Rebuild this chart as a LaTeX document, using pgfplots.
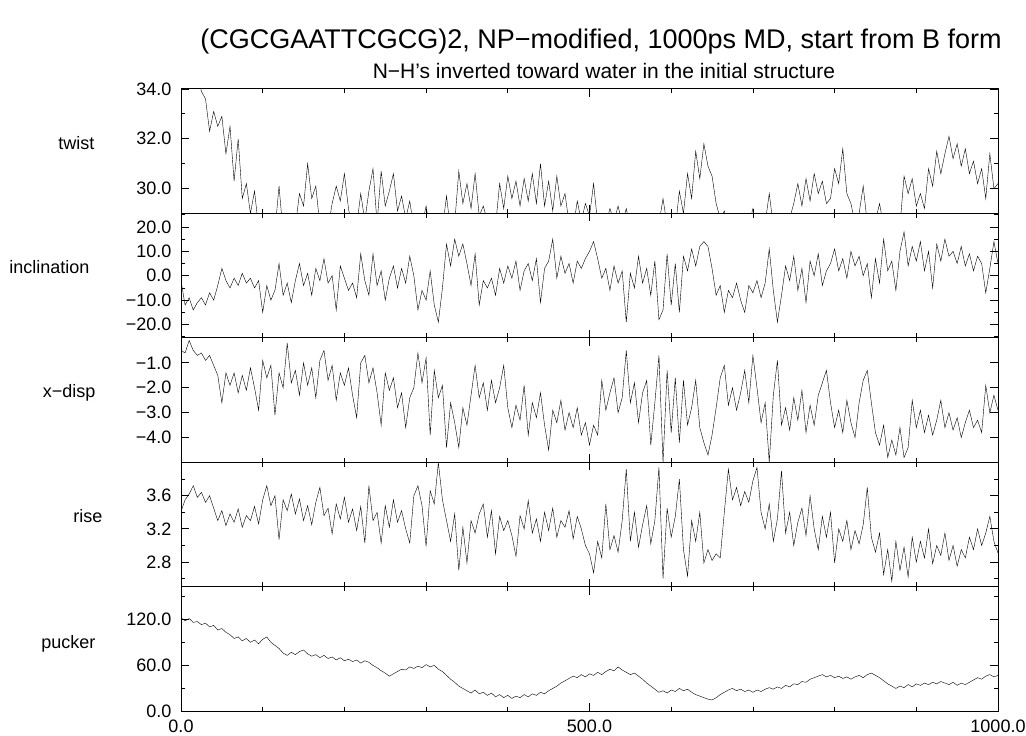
\documentclass[border=0pt]{standalone}
\usepackage{pgfplots}
\pgfplotsset{compat=1.18}
\usepackage{fontspec}
\setmainfont{Liberation Sans}
\pgfplotsset{
 panel/.style={
  at={(181pt,#1)}, anchor=north west,
  width=817pt, height=124.5pt, scale only axis,
  xmin=0, xmax=1000,
  xtick={0,500,1000}, minor xtick={100,200,300,400,600,700,800,900},
  xticklabels={},
  tick align=inside,
  major tick length=8pt, minor tick length=4.5pt,
  yticklabel pos=left,
  every tick/.style={black, line width=0.8pt},
  axis line style={black, line width=1pt},
  ticklabel style={font=\fontsize{18}{21}\selectfont},
  yticklabel style={xshift=-6pt},
  cycle list={{black, line width=1.1pt, line join=round, mark=none}},
 },
}
\begin{document}
\begin{tikzpicture}
\useasboundingbox (0pt,0pt) rectangle (1026pt,736pt);
\node[anchor=base, font=\fontsize{27}{31}\selectfont] at (601pt,687pt) {(CGCGAATTCGCG)2, NP−modified, 1000ps MD, start from B form};
\node[anchor=base, font=\fontsize{21}{24}\selectfont] at (604pt,657pt) {N−H's inverted toward water in the initial structure};
\begin{scope}[every node/.style={font=\fontsize{18}{21}\selectfont, anchor=base east}]
\node at (98pt,586pt) {twist};
\node at (93pt,462pt) {inclination};
\node at (99pt,338pt) {x−disp};
\node at (106pt,213pt) {rise};
\node at (99pt,87pt) {pucker};
\end{scope}

% twist
\begin{axis}[panel=647pt, ymin=29, ymax=34, ytick={30,32,34}, yticklabels={30.0,32.0,34.0}, minor ytick={29,31,33}]
\addplot coordinates {
(0,35.5)(5,35.0)(10,34.9)(15,34.5)(20,34.6)(25,33.9)(30,33.6)(35,32.3)(40,33.1)(45,32.5)(50,32.9)(55,31.4)(60,32.5)(65,30.3)(70,32.0)(75,29.6)(80,30.2)(85,29.0)(90,29.9)(95,28.4)
(100,28.8)(105,28.2)(110,28.0)(115,28.3)(120,30.1)(125,28.2)(130,28.0)(135,28.3)(140,28.5)(145,29.8)(150,29.3)(155,31.0)(160,29.6)(165,30.1)(170,28.5)(175,28.2)(180,28.4)(185,29.4)(190,30.1)(195,29.5)
(200,30.6)(205,29.2)(210,28.3)(215,28.5)(220,29.8)(225,28.7)(230,29.9)(235,30.8)(240,28.6)(245,30.7)(250,29.3)(255,29.9)(260,30.6)(265,29.1)(270,29.7)(275,28.8)(280,29.5)(285,28.4)(290,28.2)(295,28.5)
(300,29.3)(305,28.3)(310,28.0)(315,28.2)(320,28.4)(325,29.7)(330,28.3)(335,28.6)(340,30.7)(345,29.4)(350,30.2)(355,29.2)(360,30.6)(365,28.9)(370,29.3)(375,28.7)(380,28.3)(385,28.5)(390,30.2)(395,29.2)
(400,30.5)(405,29.6)(410,30.3)(415,29.3)(420,30.4)(425,29.5)(430,30.6)(435,29.4)(440,31.0)(445,29.3)(450,30.3)(455,29.1)(460,30.5)(465,29.3)(470,29.8)(475,28.6)(480,28.4)(485,29.5)(490,28.7)(495,29.4)
(500,28.9)(505,30.2)(510,28.6)(515,28.3)(520,28.5)(525,29.2)(530,28.7)(535,29.3)(540,28.6)(545,29.2)(550,28.4)(555,28.2)(560,28.0)(565,28.2)(570,28.1)(575,28.3)(580,28.4)(585,28.6)(590,29.6)(595,28.5)
(600,28.2)(605,28.4)(610,29.9)(615,29.0)(620,30.6)(625,29.6)(630,31.5)(635,30.4)(640,31.8)(645,30.9)(650,30.5)(655,29.4)(660,28.8)(665,29.1)(670,28.4)(675,28.2)(680,28.0)(685,28.2)(690,28.3)(695,28.5)
(700,29.2)(705,28.4)(710,28.2)(715,28.6)(720,29.8)(725,28.5)(730,28.3)(735,28.2)(740,28.5)(745,28.8)(750,29.4)(755,30.2)(760,29.3)(765,30.4)(770,29.5)(775,30.6)(780,29.8)(785,30.3)(790,29.4)(795,29.6)
(800,30.8)(805,30.2)(810,31.6)(815,29.8)(820,29.4)(825,28.6)(830,29.0)(835,30.1)(840,28.6)(845,28.4)(850,28.7)(855,29.4)(860,28.5)(865,28.2)(870,28.4)(875,28.3)(880,28.5)(885,30.5)(890,29.8)(895,30.4)
(900,29.3)(905,29.8)(910,29.2)(915,30.8)(920,30.1)(925,31.5)(930,30.6)(935,31.4)(940,32.1)(945,31.2)(950,31.8)(955,30.9)(960,31.6)(965,30.6)(970,31.1)(975,30.2)(980,30.8)(985,29.6)(990,31.4)(995,30.0)
(1000,30.2)
};
\end{axis}

% inclination
\begin{axis}[panel=522.5pt, ymin=-25.5, ymax=25.5, ytick={-20,-10,0,10,20}, yticklabels={−20.0,−10.0,0.0,10.0,20.0}, minor ytick={-25,-15,-5,5,15,25}]
\addplot coordinates {
(0,-2)(5,-12)(10,-9)(15,-14)(20,-11)(25,-9)(30,-12)(35,-7)(40,-10)(45,-4)(50,3)(55,-2)(60,-5)(65,-1)(70,-4)(75,1)(80,-3)(85,-1)(90,-5)(95,-2)
(100,-15)(105,-4)(110,-10)(115,-6)(120,5)(125,-8)(130,-3)(135,-11)(140,-2)(145,5)(150,-4)(155,1)(160,-8)(165,3)(170,-2)(175,7)(180,-3)(185,0)(190,-14)(195,4)
(200,-1)(205,-6)(210,-3)(215,-9)(220,9)(225,-2)(230,-8)(235,9)(240,-4)(245,2)(250,-10)(255,-1)(260,4)(265,-5)(270,3)(275,-3)(280,8)(285,0)(290,-14)(295,-6)
(300,-10)(305,2)(310,-12)(315,-19)(320,-5)(325,13)(330,4)(335,15)(340,8)(345,13)(350,5)(355,-4)(360,9)(365,-12)(370,-2)(375,-5)(380,-1)(385,-8)(390,3)(395,-3)
(400,4)(405,-1)(410,6)(415,-6)(420,2)(425,5)(430,-2)(435,7)(440,-11)(445,3)(450,6)(455,15)(460,-1)(465,8)(470,1)(475,5)(480,-3)(485,6)(490,3)(495,7)
(500,10)(505,14)(510,7)(515,-1)(520,3)(525,-6)(530,4)(535,-3)(540,2)(545,-19)(550,1)(555,-5)(560,8)(565,-3)(570,3)(575,-8)(580,6)(585,-18)(590,-14)(595,9)
(600,-12)(605,5)(610,-15)(615,8)(620,2)(625,11)(630,4)(635,12)(640,14)(645,12)(650,3)(655,-8)(660,-4)(665,-15)(670,-6)(675,-9)(680,-3)(685,-10)(690,-15)(695,-4)
(700,-7)(705,-2)(710,-9)(715,-3)(720,11)(725,-6)(730,-19)(735,-8)(740,4)(745,-2)(750,8)(755,-6)(760,3)(765,-11)(770,6)(775,0)(780,9)(785,-4)(790,2)(795,5)
(800,11)(805,2)(810,7)(815,-1)(820,10)(825,4)(830,8)(835,0)(840,5)(845,-9)(850,7)(855,-3)(860,15)(865,2)(870,6)(875,-6)(880,10)(885,18)(890,4)(895,12)
(900,6)(905,14)(910,2)(915,10)(920,-5)(925,13)(930,6)(935,15)(940,8)(945,10)(950,5)(955,12)(960,4)(965,9)(970,2)(975,8)(980,5)(985,-7)(990,3)(995,14)
(1000,5)
};
\end{axis}

% x-disp
\begin{axis}[panel=398pt, ymin=-5, ymax=0, ytick={-4,-3,-2,-1}, yticklabels={−4.0,−3.0,−2.0,−1.0}]
\addplot coordinates {
(0,-0.5)(5,-0.6)(10,-0.1)(15,-0.5)(20,-0.7)(25,-0.6)(30,-0.9)(35,-0.7)(40,-1.1)(45,-1.5)(50,-2.6)(55,-1.4)(60,-1.9)(65,-1.4)(70,-2.2)(75,-1.5)(80,-2.1)(85,-1.2)(90,-2.0)(95,-2.9)
(100,-0.9)(105,-1.6)(110,-1.1)(115,-3.1)(120,-1.4)(125,-2.0)(130,-0.2)(135,-1.8)(140,-1.3)(145,-2.3)(150,-1.0)(155,-1.9)(160,-1.2)(165,-2.4)(170,-0.9)(175,-0.5)(180,-1.7)(185,-1.1)(190,-2.5)(195,-1.4)
(200,-1.9)(205,-1.2)(210,-2.3)(215,-3.2)(220,-1.0)(225,-0.7)(230,-1.8)(235,-1.2)(240,-2.2)(245,-3.5)(250,-1.4)(255,-2.1)(260,-1.6)(265,-2.8)(270,-2.2)(275,-3.6)(280,-2.4)(285,-2.0)(290,-0.6)(295,-1.8)
(300,-0.8)(305,-3.9)(310,-1.3)(315,-2.4)(320,-1.9)(325,-4.4)(330,-2.6)(335,-3.4)(340,-4.4)(345,-2.8)(350,-3.5)(355,-2.3)(360,-1.1)(365,-2.4)(370,-1.8)(375,-2.9)(380,-1.7)(385,-2.6)(390,-2.0)(395,-1.1)
(400,-2.8)(405,-3.6)(410,-2.7)(415,-3.3)(420,-1.9)(425,-3.9)(430,-2.6)(435,-3.2)(440,-2.2)(445,-3.5)(450,-4.5)(455,-2.9)(460,-3.4)(465,-2.5)(470,-3.7)(475,-3.0)(480,-3.6)(485,-2.8)(490,-3.9)(495,-3.4)
(500,-4.3)(505,-3.5)(510,-3.9)(515,-1.7)(520,-2.9)(525,-2.2)(530,-1.6)(535,-3.0)(540,-2.4)(545,-0.5)(550,-2.6)(555,-1.8)(560,-3.4)(565,-2.2)(570,-1.7)(575,-4.3)(580,-2.6)(585,-0.7)(590,-5.0)(595,-1.3)
(600,-3.8)(605,-1.6)(610,-4.2)(615,-1.7)(620,-3.5)(625,-2.8)(630,-1.7)(635,-3.6)(640,-4.2)(645,-4.7)(650,-3.9)(655,-2.8)(660,-1.6)(665,-1.1)(670,-2.7)(675,-2.0)(680,-2.9)(685,-2.2)(690,-1.3)(695,-2.6)
(700,-0.7)(705,-2.0)(710,-3.4)(715,-2.6)(720,-5.0)(725,-2.3)(730,-0.9)(735,-3.5)(740,-2.8)(745,-3.7)(750,-2.4)(755,-3.3)(760,-2.1)(765,-3.8)(770,-2.7)(775,-3.5)(780,-2.3)(785,-1.8)(790,-1.3)(795,-2.6)
(800,-3.6)(805,-2.9)(810,-3.8)(815,-2.5)(820,-3.4)(825,-4.0)(830,-2.6)(835,-1.7)(840,-1.3)(845,-2.6)(850,-3.8)(855,-4.3)(860,-3.5)(865,-4.8)(870,-4.1)(875,-4.7)(880,-3.6)(885,-4.8)(890,-4.4)(895,-2.5)
(900,-3.6)(905,-2.9)(910,-3.8)(915,-3.1)(920,-3.9)(925,-3.3)(930,-2.5)(935,-3.6)(940,-3.0)(945,-3.7)(950,-3.2)(955,-4.0)(960,-3.4)(965,-2.9)(970,-3.6)(975,-3.3)(980,-3.8)(985,-1.9)(990,-3.0)(995,-2.3)
(1000,-2.9)
};
\end{axis}

% rise
\begin{axis}[panel=273.5pt, ymin=2.5, ymax=4.0, ytick={2.8,3.2,3.6}, yticklabels={2.8,3.2,3.6}, minor ytick={2.6,3.0,3.4,3.8}]
\addplot coordinates {
(0,3.41)(5,3.55)(10,3.62)(15,3.72)(20,3.58)(25,3.64)(30,3.52)(35,3.60)(40,3.45)(45,3.30)(50,3.42)(55,3.24)(60,3.38)(65,3.28)(70,3.44)(75,3.22)(80,3.36)(85,3.30)(90,3.47)(95,3.26)
(100,3.55)(105,3.72)(110,3.48)(115,3.60)(120,3.07)(125,3.55)(130,3.42)(135,3.62)(140,3.38)(145,3.56)(150,3.30)(155,3.48)(160,3.25)(165,3.52)(170,3.70)(175,3.36)(180,3.45)(185,3.14)(190,3.50)(195,3.32)
(200,3.58)(205,3.28)(210,3.44)(215,3.18)(220,3.47)(225,3.03)(230,3.72)(235,3.30)(240,3.40)(245,3.03)(250,3.48)(255,3.22)(260,3.55)(265,3.28)(270,3.42)(275,3.20)(280,3.03)(285,3.60)(290,3.72)(295,3.48)
(300,2.99)(305,3.66)(310,3.50)(315,4.00)(320,3.55)(325,3.30)(330,3.05)(335,3.38)(340,2.70)(345,3.22)(350,2.79)(355,3.30)(360,3.15)(365,3.38)(370,3.50)(375,3.10)(380,3.42)(385,2.90)(390,3.35)(395,3.18)
(400,3.30)(405,3.12)(410,2.87)(415,3.36)(420,3.20)(425,3.54)(430,3.15)(435,3.32)(440,3.05)(445,3.40)(450,3.18)(455,3.45)(460,3.10)(465,3.30)(470,3.22)(475,3.42)(480,3.08)(485,3.35)(490,3.20)(495,3.00)
(500,2.90)(505,2.67)(510,3.05)(515,2.85)(520,3.50)(525,2.95)(530,3.12)(535,2.92)(540,3.30)(545,3.92)(550,3.05)(555,3.40)(560,2.98)(565,3.25)(570,3.48)(575,3.02)(580,3.30)(585,3.94)(590,2.60)(595,3.45)
(600,3.10)(605,3.35)(610,3.80)(615,2.95)(620,2.63)(625,3.30)(630,3.05)(635,3.40)(640,2.79)(645,2.95)(650,2.82)(655,2.90)(660,2.85)(665,3.40)(670,3.92)(675,3.55)(680,3.70)(685,3.48)(690,3.65)(695,3.52)
(700,3.78)(705,3.94)(710,3.40)(715,3.20)(720,3.50)(725,3.05)(730,3.32)(735,3.90)(740,3.15)(745,3.40)(750,3.00)(755,3.28)(760,3.45)(765,3.12)(770,3.60)(775,3.20)(780,2.95)(785,3.35)(790,3.10)(795,3.40)
(800,2.79)(805,3.20)(810,3.05)(815,3.30)(820,2.95)(825,3.18)(830,3.02)(835,3.25)(840,3.70)(845,3.10)(850,2.92)(855,3.15)(860,2.65)(865,2.95)(870,2.57)(875,3.05)(880,2.70)(885,2.98)(890,2.62)(895,3.10)
(900,2.80)(905,3.05)(910,2.85)(915,3.20)(920,2.78)(925,3.00)(930,2.88)(935,3.15)(940,2.82)(945,3.00)(950,2.75)(955,2.95)(960,2.85)(965,3.10)(970,2.95)(975,3.20)(980,3.00)(985,3.15)(990,3.35)(995,3.05)
(1000,2.91)
};
\end{axis}

% pucker
\begin{axis}[panel=149pt, ymin=0, ymax=162, ytick={0,60,120}, yticklabels={0.0,60.0,120.0}, minor ytick={30,90,150}, xticklabels={0.0,500.0,1000.0}, xticklabel style={yshift=-4.5pt}]
\addplot coordinates {
(0,122)(5,118)(10,121)(15,116)(20,117)(25,113)(30,115)(35,110)(40,112)(45,106)(50,108)(55,103)(60,100)(65,95)(70,97)(75,92)(80,95)(85,90)(90,93)(95,88)
(100,94)(105,97)(110,90)(115,86)(120,82)(125,76)(130,73)(135,77)(140,74)(145,78)(150,80)(155,75)(160,72)(165,74)(170,70)(175,73)(180,69)(185,71)(190,67)(195,70)
(200,66)(205,68)(210,65)(215,67)(220,63)(225,66)(230,64)(235,60)(240,57)(245,53)(250,50)(255,46)(260,49)(265,52)(270,55)(275,54)(280,58)(285,56)(290,59)(295,57)
(300,61)(305,58)(310,60)(315,55)(320,52)(325,47)(330,42)(335,38)(340,33)(345,30)(350,27)(355,24)(360,28)(365,23)(370,25)(375,21)(380,24)(385,19)(390,22)(395,18)
(400,21)(405,17)(410,20)(415,18)(420,22)(425,19)(430,23)(435,21)(440,25)(445,23)(450,27)(455,30)(460,33)(465,37)(470,40)(475,43)(480,46)(485,44)(490,48)(495,45)
(500,49)(505,47)(510,51)(515,48)(520,52)(525,55)(530,53)(535,58)(540,54)(545,51)(550,48)(555,50)(560,46)(565,42)(570,37)(575,33)(580,29)(585,25)(590,27)(595,24)
(600,28)(605,26)(610,30)(615,27)(620,29)(625,25)(630,22)(635,20)(640,18)(645,16)(650,15)(655,18)(660,22)(665,25)(670,28)(675,30)(680,27)(685,29)(690,26)(695,28)
(700,25)(705,28)(710,26)(715,29)(720,31)(725,29)(730,32)(735,30)(740,34)(745,32)(750,36)(755,35)(760,39)(765,38)(770,42)(775,44)(780,46)(785,48)(790,45)(795,47)
(800,44)(805,46)(810,43)(815,45)(820,42)(825,45)(830,47)(835,44)(840,48)(845,50)(850,47)(855,44)(860,40)(865,36)(870,33)(875,30)(880,33)(885,31)(890,35)(895,32)
(900,36)(905,34)(910,37)(915,35)(920,38)(925,36)(930,39)(935,37)(940,35)(945,38)(950,34)(955,37)(960,35)(965,38)(970,41)(975,44)(980,42)(985,46)(990,48)(995,45)
(1000,47)
};
\end{axis}
\end{tikzpicture}
\end{document}
